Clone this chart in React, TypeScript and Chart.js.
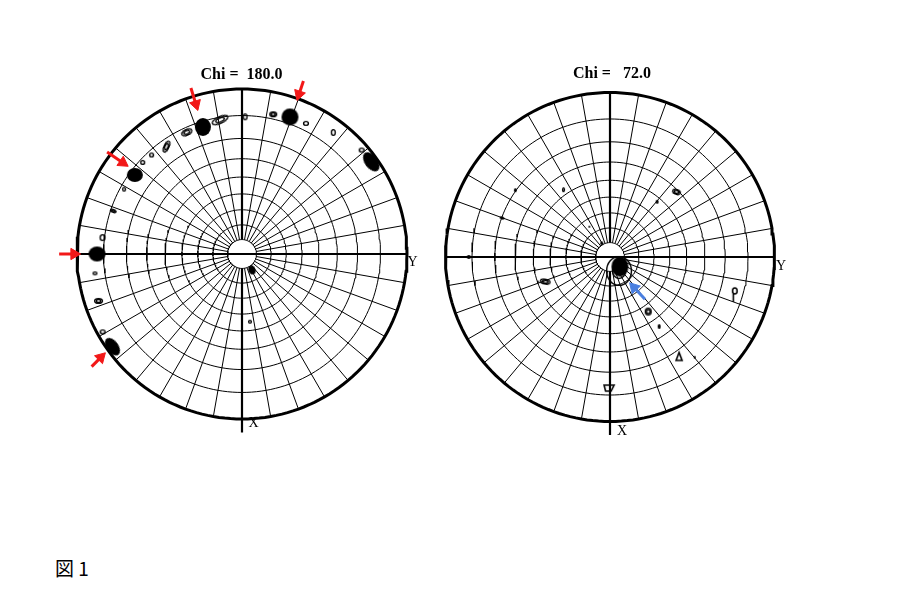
import React, { useEffect, useRef } from "react";
import { Chart, registerables } from "chart.js";
Chart.register(...registerables);

// ---------- stereographic net (psi = tilt, phi = azimuth from X toward Y) ----------
const RING_PSI = [20, 30, 40, 50, 60, 70, 80];
const HOLE_PSI = 10;
const RIM_PSI = 90;
const AXIS_TAIL_PSI = 94.5;
const SPOKE_PHI = [0, 10, 20, 30, 40, 50, 60, 70, 80, 90, 100, 110, 120, 130, 140, 150, 160, 170,
  180, 190, 200, 210, 220, 230, 240, 250, 260, 270, 280, 290, 300, 310, 320, 330, 340, 350];

// ---------- Chi = 180.0 ----------
const LEFT_TITLE = "Chi =  180.0";
const LEFT_PSI = [77.7, 82.7, 87.8, 77.8, 82.6, 88.0, 13.0,
  78.9, 78.0, 79.5, 81.9, 82.8, 85.3, 87.7, 77.0, 78.2, 78.6, 78.4, 78.9, 80.8, 83.9, 84.9, 88.1, 44.9];
const LEFT_PHI = [197.1, 160.7, 125.5, 233.6, 270, 305.6, 32,
  189.3, 204.4, 178.7, 167.4, 153.9, 143.1, 131, 215.1, 222.4, 227.3, 241.2, 251.5, 263.3, 277.5, 288.1, 299.2, 6.7];
const LEFT_SHAPE = ["blob", "blob", "blob", "blob", "blob", "blob", "blob",
  "double", "double", "ring", "double", "ring", "ring", "ring", "double", "ring", "ring", "ring", "double", "ring", "ring", "double", "ring", "ring"];
const LEFT_W = [16, 17, 22, 16, 17, 20, 7, 18, 12, 5, 8, 6, 5, 6, 6, 5, 5, 4, 7, 6, 5, 9, 6, 4];
const LEFT_H = [18, 17, 13, 14, 15, 12, 9, 8, 7, 7, 6, 5, 7, 5, 13, 5, 5, 5, 4, 7, 4, 6, 5, 4];
const LEFT_TILT = [0, 0, 54, 0, 0, 54, -20, -25, -25, 0, 0, 0, 0, 0, 25, 0, 0, 0, 20, 0, 0, 0, 0, 0];
const LEFT_ARROW_PSI = [84.8, 89.5, 82.3, 88.9, 91.4];
const LEFT_ARROW_PHI = [197.1, 160.3, 232.4, 270, 305.9];
const LEFT_ARROW_DIR = [72.8, 108.3, 34.3, 0, -45.2];
const LEFT_ARROW_LEN = [23, 20, 25, 21, 19];

// ---------- Chi = 72.0 ----------
const RIGHT_TITLE = "Chi =   72.0";
const RIGHT_PSI = [9.6, 11.5, 44.1, 54.7, 72.7, 77.2, 76.8, 77.1, 45.7, 81.3, 69.8, 70.3, 52.9, 25.1, 11.1, 59.0, 47.6];
const RIGHT_PHI = [46, 33, 35, 35.3, 34.8, 40.2, 73.1, 359.6, 290.8, 270, 250.1, 234.8, 214.6, 214.3, 211.2, 134.4, 139.5];
const RIGHT_SHAPE = ["blob", "double", "double", "blob", "tri", "blob", "loop", "pent", "double", "ring", "blob", "blob", "ring", "blob", "blob", "double", "blob"];
const RIGHT_W = [17, 26, 7, 3, 6, 2, 6, 10, 11, 4, 5, 3, 3, 2, 3, 9, 3];
const RIGHT_H = [20, 30, 8, 5, 8, 3, 14, 6, 6, 4, 3, 4, 5, 2, 4, 6, 4];
const RIGHT_TILT = [0, 0, 0, 0, 0, 0, 0, 0, 10, 0, 20, 0, 0, 0, 0, 20, 0];
const RIGHT_ARROW_PSI = [22.6];
const RIGHT_ARROW_PHI = [37.3];
const RIGHT_ARROW_DIR = [-133.2];
const RIGHT_ARROW_LEN = [22];

const CAPTION = "図 1";

function proj(psi: number, phi: number) {
  const t = Math.tan((psi * Math.PI) / 360);
  const a = (phi * Math.PI) / 180;
  return { x: t * Math.sin(a), y: -t * Math.cos(a) };
}

function makeGlyph(shape: string, w: number, h: number): HTMLCanvasElement {
  const pad = 3;
  const c = document.createElement("canvas");
  c.width = Math.ceil(w) + pad * 2;
  c.height = Math.ceil(h) + pad * 2;
  const g = c.getContext("2d")!;
  const cx = c.width / 2, cy = c.height / 2;
  g.strokeStyle = "#000";
  g.fillStyle = "#000";
  g.lineWidth = 1.4;
  g.beginPath();
  if (shape === "blob") {
    g.ellipse(cx, cy, w / 2, h / 2, 0, 0, Math.PI * 2);
    g.fill();
  } else if (shape === "ring") {
    g.ellipse(cx, cy, Math.max(w / 2 - 0.6, 0.9), Math.max(h / 2 - 0.6, 0.9), 0, 0, Math.PI * 2);
    g.stroke();
  } else if (shape === "double") {
    g.ellipse(cx, cy, Math.max(w / 2 - 0.6, 1), Math.max(h / 2 - 0.6, 1), 0, 0, Math.PI * 2);
    g.stroke();
    g.beginPath();
    g.ellipse(cx, cy, Math.max(w / 4, 0.8), Math.max(h / 4, 0.8), 0, 0, Math.PI * 2);
    g.stroke();
  } else if (shape === "tri") {
    g.lineWidth = 1.6;
    g.moveTo(cx, pad);
    g.lineTo(pad + w, pad + h);
    g.lineTo(pad, pad + h);
    g.closePath();
    g.stroke();
  } else if (shape === "pent") {
    g.lineWidth = 1.6;
    g.moveTo(pad, pad);
    g.lineTo(pad + w, pad);
    g.lineTo(pad + w * 0.7, pad + h);
    g.lineTo(pad + w * 0.15, pad + h);
    g.closePath();
    g.stroke();
  } else if (shape === "loop") {
    g.lineWidth = 1.6;
    g.ellipse(cx, pad + w / 2, w / 2 - 0.7, w / 2, 0, 0, Math.PI * 2);
    g.stroke();
    g.beginPath();
    g.moveTo(cx - w / 4, pad + w);
    g.lineTo(cx - w / 4, pad + h);
    g.stroke();
  }
  return c;
}

type Panel = {
  title: string;
  psi: number[]; phi: number[]; shape: string[]; w: number[]; h: number[]; tilt: number[];
  aPsi: number[]; aPhi: number[]; aDir: number[]; aLen: number[]; aColor: string;
  cx: number; cy: number; R: number; L: number; T: number; W: number; H: number;
  titleXY: [number, number]; xLab: [number, number]; yLab: [number, number];
};

const textPlugin = {
  id: "poleText",
  afterDatasetsDraw(chart: any, _a: any, o: any) {
    const { ctx, scales } = chart;
    const sx = scales.x, sy = scales.y;
    ctx.save();
    ctx.fillStyle = "#000";
    ctx.textAlign = "center";
    ctx.textBaseline = "middle";
    ctx.font = "bold 16px 'Liberation Serif', 'DejaVu Serif', serif";
    ctx.fillText(o.title, sx.getPixelForValue(o.titleXY[0]), sy.getPixelForValue(o.titleXY[1]));
    ctx.font = "14px 'Liberation Serif', 'DejaVu Serif', serif";
    ctx.fillText("X", sx.getPixelForValue(o.xLab[0]), sy.getPixelForValue(o.xLab[1]));
    ctx.fillText("Y", sx.getPixelForValue(o.yLab[0]), sy.getPixelForValue(o.yLab[1]));
    ctx.restore();
  },
};

function PolePanel({ p }: { p: Panel }) {
  const ref = useRef<HTMLCanvasElement | null>(null);
  useEffect(() => {
    if (!ref.current) return;
    const line = (data: any[], width: number, order: number) => ({
      type: "scatter", data, showLine: true, borderColor: "#000", borderWidth: width,
      pointRadius: 0, tension: 0, fill: false, spanGaps: false, clip: false, order,
    });
    const circle = (psi: number) => {
      const pts: any[] = [];
      for (let a = 0; a <= 360; a += 2) pts.push(proj(psi, a));
      return pts;
    };
    const datasets: any[] = [];
    // peaks / contours
    datasets.push({
      type: "scatter",
      data: p.psi.map((v, i) => proj(v, p.phi[i])),
      pointStyle: p.shape.map((s, i) => makeGlyph(s, p.w[i], p.h[i])),
      pointRotation: p.tilt,
      pointRadius: 5,
      showLine: false,
      clip: false,
      order: 0,
    });
    // arrows
    p.aPsi.forEach((v, i) => {
      const tip = proj(v, p.aPhi[i]);
      const th = (p.aDir[i] * Math.PI) / 180;
      const ux = Math.cos(th) / p.R, uy = -Math.sin(th) / p.R;
      const head = 6;
      const tail = { x: tip.x - ux * p.aLen[i], y: tip.y - uy * p.aLen[i] };
      const hc = { x: tip.x - ux * head, y: tip.y - uy * head };
      datasets.push({
        type: "scatter", data: [tail, hc], showLine: true, borderColor: p.aColor, borderWidth: 3,
        pointRadius: [0, 6.5], pointStyle: "triangle", pointRotation: p.aDir[i] + 90,
        pointBackgroundColor: p.aColor, pointBorderColor: p.aColor, pointBorderWidth: 1,
        clip: false, order: 0,
      });
    });
    // axes
    datasets.push(line([proj(RIM_PSI, 270), proj(RIM_PSI, 90)], 2.2, 1));
    datasets.push(line([proj(RIM_PSI, 180), proj(HOLE_PSI, 180), { x: 0, y: null }, proj(HOLE_PSI, 0), proj(AXIS_TAIL_PSI, 0)], 2.2, 1));
    // rim
    datasets.push(line(circle(RIM_PSI), 3, 2));
    // rings
    datasets.push(line(circle(HOLE_PSI), 1, 3));
    RING_PSI.forEach((r) => datasets.push(line(circle(r), 1, 3)));
    // spokes
    const sp: any[] = [];
    SPOKE_PHI.forEach((a) => {
      sp.push(proj(HOLE_PSI, a), proj(RIM_PSI, a), { x: 0, y: null });
    });
    datasets.push(line(sp, 1, 4));

    const chart = new Chart(ref.current, {
      type: "scatter",
      data: { datasets },
      options: {
        animation: false,
        responsive: false,
        maintainAspectRatio: false,
        events: [],
        layout: { padding: 0, autoPadding: false },
        scales: {
          x: { type: "linear", display: false, bounds: "data", min: (p.L - p.cx) / p.R, max: (p.L + p.W - p.cx) / p.R },
          y: { type: "linear", display: false, bounds: "data", min: (p.cy - (p.T + p.H)) / p.R, max: (p.cy - p.T) / p.R },
        },
        plugins: {
          legend: { display: false },
          title: { display: false },
          tooltip: { enabled: false },
          poleText: { title: p.title, titleXY: p.titleXY, xLab: p.xLab, yLab: p.yLab },
        } as any,
      },
      plugins: [textPlugin],
    } as any);
    return () => chart.destroy();
  }, [p]);
  return (
    <canvas
      ref={ref}
      width={p.W}
      height={p.H}
      style={{ position: "absolute", left: p.L, top: p.T, width: p.W, height: p.H }}
    />
  );
}

const LEFT: Panel = {
  title: LEFT_TITLE,
  psi: LEFT_PSI, phi: LEFT_PHI, shape: LEFT_SHAPE, w: LEFT_W, h: LEFT_H, tilt: LEFT_TILT,
  aPsi: LEFT_ARROW_PSI, aPhi: LEFT_ARROW_PHI, aDir: LEFT_ARROW_DIR, aLen: LEFT_ARROW_LEN, aColor: "#f21818",
  cx: 242, cy: 254, R: 165, L: 40, T: 50, W: 400, H: 400,
  titleXY: [-0.003, 1.085], xLab: [0.07, -1.024], yLab: [1.033, -0.048],
};

const RIGHT: Panel = {
  title: RIGHT_TITLE,
  psi: RIGHT_PSI, phi: RIGHT_PHI, shape: RIGHT_SHAPE, w: RIGHT_W, h: RIGHT_H, tilt: RIGHT_TILT,
  aPsi: RIGHT_ARROW_PSI, aPhi: RIGHT_ARROW_PHI, aDir: RIGHT_ARROW_DIR, aLen: RIGHT_ARROW_LEN, aColor: "#4a7fe0",
  cx: 610, cy: 257, R: 164.5, L: 425, T: 50, W: 380, H: 400,
  titleXY: [0.012, 1.112], xLab: [0.073, -1.058], yLab: [1.04, -0.055],
};

export default function App() {
  return (
    <div style={{ position: "absolute", left: 0, top: 0, width: 907, height: 592, background: "#fff", overflow: "hidden" }}>
      <PolePanel p={LEFT} />
      <PolePanel p={RIGHT} />
      <div
        style={{
          position: "absolute", left: 55, top: 558, fontSize: 19, lineHeight: "20px",
          fontFamily: "'Noto Sans CJK JP', 'Noto Sans', sans-serif", color: "#000",
          whiteSpace: "pre",
        }}
      >
        {CAPTION}
      </div>
    </div>
  );
}
